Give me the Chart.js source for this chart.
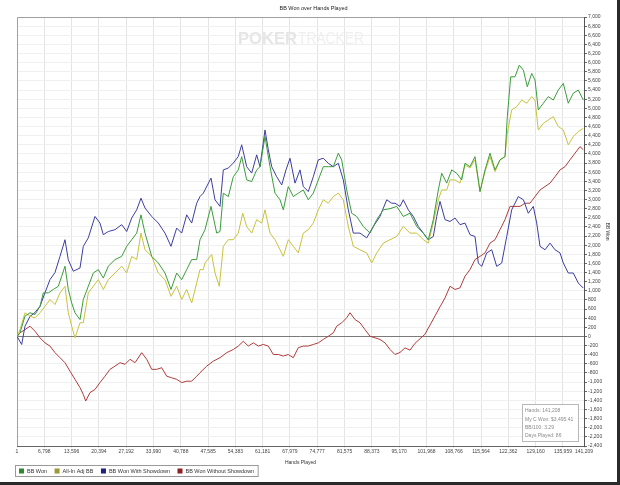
<!DOCTYPE html>
<html><head><meta charset="utf-8">
<script src="https://cdn.jsdelivr.net/npm/chart.js@4.4.1/dist/chart.umd.min.js"></script>
<style>
html,body{margin:0;padding:0;background:#fff;}
#wrap{position:relative;width:620px;height:485px;background:#fff;}
canvas{display:block;}
</style></head><body>
<div id="wrap"><canvas id="c" width="620" height="485"></canvas></div>
<script>
// ---------- DATA ----------
const chartTitle = 'BB Won over Hands Played';
const xAxisTitle = 'Hands Played';
const yAxisTitle = 'BB Won';
const seriesNames = ['BB Won', 'All-In Adj BB', 'BB Won With Showdown', 'BB Won Without Showdown'];
const xTicks = [1, 6798, 13596, 20394, 27192, 33990, 40788, 47585, 54383, 61181, 67979, 74777, 81575, 88373, 95170, 101968, 108766, 115564, 122362, 129160, 135959, 141209];
const statsLines = ['Hands: 141,208', 'My C Won: $3,495.41', 'BB/100: 3.29', 'Days Played: 86'];

const wonHands = [1,747,1992,3238,4483,5728,6550,7795,9041,10286,11132,11954,12776,13623,14445,15690,16512,17757,19003,20248,21493,22738,24407,26075,27321,28566,29812,30882,31878,33547,35191,36859,38354,39773,41018,42264,43509,44754,45576,46398,46821,48316,49735,50557,51379,52624,53869,55114,55961,57206,58452,59697,60519,61764,63010,64255,65500,66322,67567,68813,70058,71303,72548,73794,75039,76284,77529,78775,80020,80867,82112,83357,84602,86246,87915,89583,91227,92896,94565,96208,97877,99546,101190,102435,103680,104925,105772,107017,108262,109508,110753,111574,112820,114065,115310,116555,117801,119046,120291,121536,122110,122956,124027,125098,126117,127091,128187,129008,129830,131075,132320,133565,134811,136056,137301,138546,139792,141037];
const wonBB = [0,80,445,520,480,660,955,955,1030,1100,1320,1540,1030,735,520,370,810,1100,1390,1465,1280,1540,1685,1755,1975,2120,2265,2665,2265,1755,1610,1390,1030,1390,1245,1465,1685,1685,2120,2265,2340,2850,2265,2300,3140,3065,3500,3650,3940,3430,3395,3650,3720,4380,3720,3140,2995,2775,3285,3065,3140,3210,2995,3140,3430,3720,3720,3720,4015,3870,3210,2700,2630,2410,2265,2560,2775,2800,2850,2630,2700,2410,2265,2120,2560,3210,3575,3360,3650,3575,3430,3795,3720,3940,3175,3650,4015,3650,3870,3940,4815,5690,5690,5945,5835,5470,5765,5620,4965,5110,5255,5180,5400,5545,5110,5330,5400,5180];

const allinHands = [1,747,1992,3238,4483,5728,6973,8219,9464,10709,11954,12776,13623,14445,15690,16512,17757,19003,20248,21493,22738,24407,26075,27321,28566,29812,30882,31878,33547,35191,36859,38354,39773,41018,42264,43509,44754,45576,46398,46821,48490,49312,50383,51379,52624,53869,55114,56210,57206,58452,59697,60942,61764,63010,64255,65500,66322,67567,68813,70058,71303,72548,73794,75039,76284,77529,78775,80020,81265,82511,83756,85424,87093,88338,89583,91227,92896,94565,96208,97877,99546,101190,102435,103680,104925,105772,107017,107839,109084,110329,111574,112820,114065,115310,116555,117801,119046,120291,121536,122110,123205,124450,125695,126941,128187,129008,129830,131075,132320,133565,134811,136056,137301,138546,139792,141037];
const allinBB = [0,150,520,445,410,520,660,810,700,955,1100,520,225,-30,300,300,955,1100,1245,1030,1245,1390,1540,1390,1755,1685,2265,1900,1755,1390,1245,880,1100,810,1030,735,1175,1465,1465,1610,1795,1390,1100,1975,2120,2120,2265,2700,2410,2265,2560,2485,2775,2265,2120,1900,1755,2120,1975,1830,2265,2340,2485,2775,2995,2920,3065,3140,2995,2410,1975,1900,1830,1610,1830,2045,2120,2190,2410,2265,2265,2120,2045,2485,2995,3210,3210,3430,3430,3360,3760,3690,3870,3175,3610,3940,3610,3870,3940,4450,4965,5035,5180,5110,5255,5180,4525,4670,4745,4815,4600,4525,4200,4380,4490,4560];

const sdHands = [1,1171,1992,3238,4483,5728,6973,8219,9464,10709,11954,12776,14021,15690,16512,17757,19426,20671,21493,22738,24407,26075,27321,28566,29812,30882,31878,33547,35191,36859,38354,39773,41018,42264,43509,44754,45576,46398,48316,49312,50557,51379,52624,53869,55114,55961,57206,58452,59697,60519,61764,62586,63433,64678,65924,66994,67991,69236,70481,71303,72548,73794,75039,76284,77529,78775,80020,81265,82511,83756,85424,87093,88737,90405,92074,93319,94141,95386,96208,97454,98699,99944,101190,102435,103680,104527,105348,106593,107839,109084,110329,111574,112820,114065,114887,115734,116979,118224,119470,120715,121960,123205,124849,126117,127340,128585,129432,130253,131498,132743,133989,135234,136056,137301,138546,139792,141037];
const sdBB = [0,-175,225,440,525,660,960,1245,1400,1755,2120,1680,1430,1500,1975,2160,2630,2485,2230,2300,2340,2450,2300,2595,2775,3030,2815,2630,2485,2265,1975,2375,2265,2665,2485,2920,3065,3140,3470,2995,2850,3650,3690,3800,3945,4200,3720,3580,3980,3720,4525,4090,3720,3500,3320,3650,3905,3360,3650,3285,3175,3500,3870,3905,3795,3720,3795,3430,2775,2265,2265,2160,2410,2630,2995,2920,2920,2850,2995,2775,2630,2410,2265,2120,2190,2630,2960,2560,2520,2595,2450,2485,2230,2190,1610,1535,1830,1900,1535,1610,2190,2775,3065,2995,2700,2850,2485,1975,1900,2045,1900,1830,1610,1390,1390,1170,1060];

const nosdHands = [1,747,1992,3238,4483,5728,6973,8219,9464,10709,11954,13200,14445,15690,16512,17110,18181,19426,20671,21916,23162,24407,25652,26898,28143,29388,31057,32302,33547,34792,36038,37283,38528,39773,41018,42264,43509,44754,45576,47245,48889,50557,52226,53869,55114,56360,57605,58850,60095,61341,62586,63832,65077,66322,67567,68813,70058,71303,72548,73794,75039,76284,77529,78775,79622,80867,82112,82934,84179,85424,86669,87915,89160,90405,91650,92896,94141,95386,96632,97877,99122,100367,101613,102858,104103,105348,106593,107839,109084,110329,111574,112820,114065,115310,116555,117801,119046,120291,121536,122782,124027,125272,126518,127763,129008,130253,131498,132743,133989,135234,136479,137724,138970,140215,141037];
const nosdBB = [0,80,150,225,115,-30,-140,-210,-355,-465,-575,-760,-940,-1120,-1270,-1415,-1230,-1160,-1010,-870,-720,-650,-575,-610,-500,-575,-355,-500,-720,-720,-685,-870,-905,-940,-1010,-980,-980,-870,-795,-650,-540,-465,-355,-285,-210,-105,-210,-140,-210,-175,-210,-395,-395,-430,-395,-465,-245,-210,-210,-175,-140,-65,5,80,225,300,410,520,370,300,150,5,-30,-65,-140,-285,-395,-350,-250,-300,-150,-50,50,250,450,650,845,1100,1030,1065,1320,1465,1685,1755,1830,2045,2120,2340,2560,2850,2850,2850,2920,2920,3065,3210,3285,3360,3500,3650,3720,3870,4015,4160,4090];

// ---------- CHART ----------
const FONT = '"Liberation Sans", Arial, sans-serif';
const toPts = (hs, vs) => hs.map((h, i) => ({x: h, y: vs[i]}));

const watermark = {
  id: 'watermark',
  beforeDatasetsDraw(chart) {
    const ctx = chart.ctx;
    ctx.save();
    ctx.textBaseline = 'alphabetic';
    ctx.font = 'bold 17px ' + FONT;
    ctx.fillStyle = '#e6e6e6';
    ctx.fillText('POKER', 238, 44, 59);
    ctx.font = '17px ' + FONT;
    ctx.fillStyle = '#efefef';
    ctx.fillText('TRACKER', 298, 44, 66);
    ctx.restore();
  }
};

const frame = {
  id: 'frame',
  beforeDatasetsDraw(chart) {
    const {ctx, chartArea: a} = chart;
    ctx.save();
    ctx.strokeStyle = '#a0a0a0';
    ctx.lineWidth = 1;
    ctx.beginPath();
    ctx.moveTo(Math.round(a.left) + 0.5, Math.round(a.bottom));
    ctx.lineTo(Math.round(a.left) + 0.5, Math.round(a.top) + 0.5);
    ctx.lineTo(Math.round(a.right), Math.round(a.top) + 0.5);
    ctx.stroke();
    ctx.restore();
  },
  afterDraw(chart) {
    const ctx = chart.ctx;
    ctx.save();
    // stats box
    ctx.fillStyle = '#ffffff';
    ctx.fillRect(522.5, 404.5, 56, 37);
    ctx.strokeStyle = '#b8b8b8';
    ctx.lineWidth = 1;
    ctx.strokeRect(522.5, 404.5, 56, 37);
    ctx.fillStyle = '#8a8a8a';
    ctx.font = '5px ' + FONT;
    ctx.textBaseline = 'middle';
    const ys = [411, 419.5, 427.5, 436];
    statsLines.forEach((t, i) => ctx.fillText(t, 525, ys[i]));
    // legend
    ctx.font = '5.5px ' + FONT;
    let x = 19;
    const y = 471;
    chart.data.datasets.forEach(ds => {
      ctx.fillStyle = ds.backgroundColor;
      ctx.fillRect(x, y - 2.5, 5, 5);
      ctx.fillStyle = '#333';
      ctx.fillText(ds.label, x + 8, y);
      x += 8 + ctx.measureText(ds.label).width + 7.5;
    });
    ctx.strokeStyle = '#9a9a9a';
    ctx.strokeRect(15.5, 465.5, x - 19, 11);
    // outer window frame
    ctx.fillStyle = '#2a2a2a';
    ctx.fillRect(0, 482, 620, 3);
    ctx.fillRect(617, 0, 3, 485);
    ctx.restore();
  }
};

new Chart(document.getElementById('c'), {
  type: 'line',
  data: {
    datasets: [
      {label: seriesNames[0], data: toPts(wonHands, wonBB), borderColor: '#3a9d3a', backgroundColor: '#2f8a2f'},
      {label: seriesNames[1], data: toPts(allinHands, allinBB), borderColor: '#c8c23c', backgroundColor: '#9c9a35'},
      {label: seriesNames[2], data: toPts(sdHands, sdBB), borderColor: '#3d3da2', backgroundColor: '#20207e'},
      {label: seriesNames[3], data: toPts(nosdHands, nosdBB), borderColor: '#b03c3c', backgroundColor: '#8e2222'}
    ].map(d => Object.assign(d, {borderWidth: 1, pointRadius: 0, tension: 0, fill: false}))
  },
  options: {
    responsive: false,
    animation: false,
    devicePixelRatio: 1,
    layout: {padding: {left: 17, right: 10, top: 0, bottom: 19}},
    plugins: {
      legend: {display: false},
      tooltip: {enabled: false},
      title: {display: true, text: chartTitle, color: '#222', font: {family: FONT, size: 5.5, weight: 'normal'}, padding: {top: 5, bottom: 5.4}}
    },
    scales: {
      x: {
        type: 'linear', min: 1, max: 141209,
        afterBuildTicks: s => { s.ticks = xTicks.map(v => ({value: v})); },
        afterFit: s => { s.height = 20; },
        ticks: {autoSkip: false, maxRotation: 0, color: '#444', padding: 1, font: {family: FONT, size: 5},
                callback: v => v.toLocaleString('en-US')},
        grid: {color: '#e4e4e4', tickLength: 2, drawTicks: true},
        border: {display: true, color: '#666'},
        title: {display: true, text: xAxisTitle, color: '#333', font: {family: FONT, size: 5}, padding: {top: 1, bottom: 0}}
      },
      y: {
        position: 'right', min: -2400, max: 7000,
        afterFit: s => { s.width = 26; },
        ticks: {stepSize: 200, autoSkip: false, color: '#444', padding: 1, font: {family: FONT, size: 5},
                callback: v => v.toLocaleString('en-US')},
        grid: {color: c => c.tick && c.tick.value === 0 ? '#7a7a7a' : '#f0f0f0', tickLength: 3,
               tickColor: '#666'},
        border: {display: true, color: '#555'},
        title: {display: true, text: yAxisTitle, color: '#333', font: {family: FONT, size: 5}, padding: 0}
      }
    }
  },
  plugins: [watermark, frame]
});
</script>
</body></html>
